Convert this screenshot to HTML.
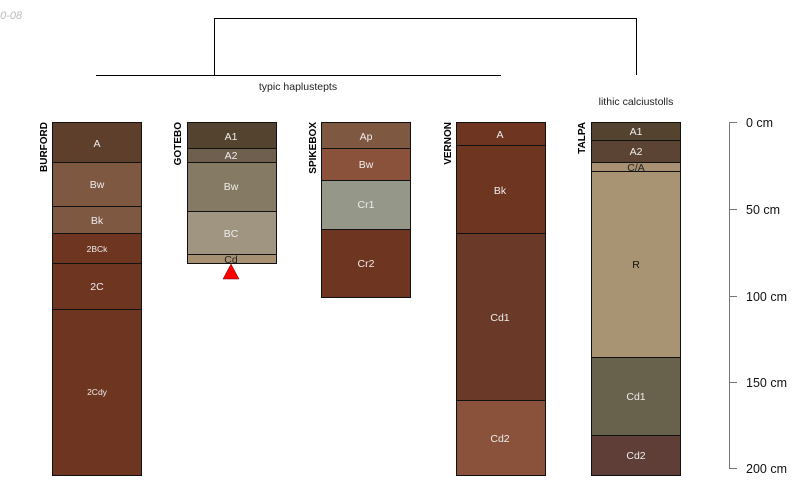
<!DOCTYPE html>
<html><head><meta charset="utf-8"><style>body{margin:0;background:#fff}svg{display:block}</style></head><body>
<svg width="800" height="500" viewBox="0 0 800 500" xmlns="http://www.w3.org/2000/svg" font-family="Liberation Sans, sans-serif">
<text x="-6" y="19" font-size="11" fill="#bbb" font-style="italic">10-08</text>
<g stroke="#000" stroke-width="1" fill="none">
<path d="M96 75.5H501M214.5 75V18.5H636.5V75"/>
</g>
<text x="298" y="90" font-size="10.5" text-anchor="middle" fill="#222">typic haplustepts</text>
<text x="636" y="105" font-size="10.5" text-anchor="middle" fill="#222">lithic calciustolls</text>
<g stroke="#111" stroke-width="1">
<rect x="52.5" y="122.5" width="89" height="40" fill="#5e3f2b"/>
<rect x="52.5" y="162.5" width="89" height="44" fill="#7e5841"/>
<rect x="52.5" y="206.5" width="89" height="27" fill="#7e5841"/>
<rect x="52.5" y="233.5" width="89" height="30" fill="#6e3521"/>
<rect x="52.5" y="263.5" width="89" height="46" fill="#6e3521"/>
<rect x="52.5" y="309.5" width="89" height="166" fill="#6e3521"/>
<rect x="187.5" y="122.5" width="89" height="26" fill="#54432f"/>
<rect x="187.5" y="148.5" width="89" height="14" fill="#6e5f4e"/>
<rect x="187.5" y="162.5" width="89" height="49" fill="#857a63"/>
<rect x="187.5" y="211.5" width="89" height="43" fill="#a09580"/>
<rect x="187.5" y="254.5" width="89" height="9" fill="#a89173"/>
<rect x="321.5" y="122.5" width="89" height="26" fill="#7e5841"/>
<rect x="321.5" y="148.5" width="89" height="32" fill="#8a523b"/>
<rect x="321.5" y="180.5" width="89" height="49" fill="#959788"/>
<rect x="321.5" y="229.5" width="89" height="68" fill="#6e3521"/>
<rect x="456.5" y="122.5" width="89" height="23" fill="#6e3521"/>
<rect x="456.5" y="145.5" width="89" height="88" fill="#6e3521"/>
<rect x="456.5" y="233.5" width="89" height="167" fill="#6a3927"/>
<rect x="456.5" y="400.5" width="89" height="75" fill="#8a523b"/>
<rect x="591.5" y="122.5" width="89" height="18" fill="#54432f"/>
<rect x="591.5" y="140.5" width="89" height="22" fill="#5b4433"/>
<rect x="591.5" y="162.5" width="89" height="9" fill="#a89173"/>
<rect x="591.5" y="171.5" width="89" height="186" fill="#a89373"/>
<rect x="591.5" y="357.5" width="89" height="78" fill="#68614b"/>
<rect x="591.5" y="435.5" width="89" height="40" fill="#5e3e37"/>
</g>
<polygon points="231,264 223,279 239,279" fill="#f00" stroke="#600" stroke-width="0.5"/>
<g font-size="10.5" text-anchor="middle" fill="#eee">
<text x="97" y="147">A</text><text x="97" y="188">Bw</text><text x="97" y="224">Bk</text>
<text x="97" y="252" font-size="8.5">2BCk</text><text x="97" y="290">2C</text><text x="97" y="395" font-size="8.5">2Cdy</text>
<text x="231" y="140">A1</text><text x="231" y="159">A2</text><text x="231" y="190">Bw</text><text x="231" y="237">BC</text>
<text x="231" y="263" fill="#222">Cd</text>
<text x="366" y="140">Ap</text><text x="366" y="168">Bw</text><text x="366" y="208">Cr1</text><text x="366" y="267">Cr2</text>
<text x="500" y="138">A</text><text x="500" y="194">Bk</text><text x="500" y="321">Cd1</text><text x="500" y="442">Cd2</text>
<text x="636" y="135">A1</text><text x="636" y="155">A2</text><text x="636" y="171" fill="#222">C/A</text>
<text x="636" y="268" fill="#111">R</text><text x="636" y="400">Cd1</text><text x="636" y="459">Cd2</text>
</g>
<g font-size="10" font-weight="bold" fill="#000">
<text transform="translate(47,122) rotate(-90)" text-anchor="end">BURFORD</text>
<text transform="translate(181,122) rotate(-90)" text-anchor="end">GOTEBO</text>
<text transform="translate(316,122) rotate(-90)" text-anchor="end">SPIKEBOX</text>
<text transform="translate(451,122) rotate(-90)" text-anchor="end">VERNON</text>
<text transform="translate(585,122) rotate(-90)" text-anchor="end">TALPA</text>
</g>
<g stroke="#777" stroke-width="1">
<path d="M729.5 122V468.5M729 122.5H737M729 209.5H737M729 296.5H737M729 382.5H737M729 468.5H737"/>
</g>
<g font-size="12.5" fill="#111">
<text x="746" y="127">0 cm</text><text x="746" y="214">50 cm</text><text x="746" y="301">100 cm</text>
<text x="746" y="387">150 cm</text><text x="746" y="473">200 cm</text>
</g>
</svg>
</body></html>
